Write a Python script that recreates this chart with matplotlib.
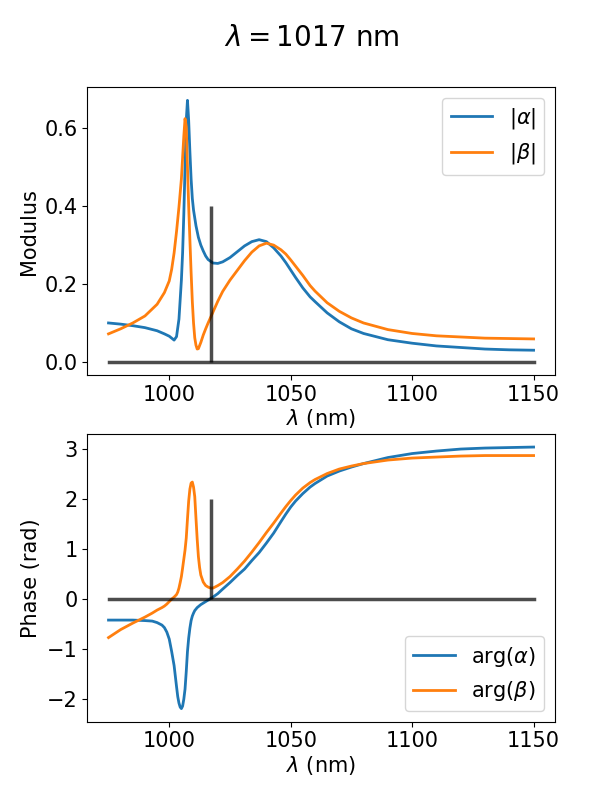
import numpy as np
from matplotlib import pyplot as plt

# wavelength marker for this frame
lam_now = 1017

# Modulus panel
wl_mod = [975, 980, 985, 990, 995, 998, 1000, 1001, 1002, 1003, 1004, 1005, 1005.5,
          1006, 1006.5, 1007, 1007.5, 1008, 1008.5, 1009, 1009.5, 1010, 1010.5, 1011,
          1011.5, 1012, 1013, 1014, 1015, 1016, 1018, 1020, 1022, 1025, 1028, 1031,
          1034, 1037, 1040, 1043, 1046, 1048, 1050, 1052, 1055, 1058, 1060, 1065, 1070,
          1075, 1080, 1090, 1100, 1110, 1120, 1130, 1140, 1150]
mod_alpha = [0.100, 0.097, 0.093, 0.088, 0.080, 0.072, 0.066, 0.061, 0.056, 0.065, 0.110,
             0.210, 0.280, 0.380, 0.500, 0.620, 0.672, 0.620, 0.540, 0.470, 0.420, 0.390,
             0.370, 0.350, 0.335, 0.320, 0.300, 0.285, 0.272, 0.263, 0.254, 0.253, 0.257,
             0.268, 0.283, 0.298, 0.309, 0.314, 0.309, 0.293, 0.272, 0.255, 0.236, 0.217,
             0.190, 0.167, 0.155, 0.126, 0.103, 0.085, 0.073, 0.057, 0.048, 0.041, 0.037,
             0.033, 0.031, 0.030]
mod_beta = [0.072, 0.085, 0.100, 0.118, 0.148, 0.178, 0.208, 0.238, 0.280, 0.335, 0.398,
            0.470, 0.525, 0.580, 0.625, 0.605, 0.500, 0.400, 0.314, 0.230, 0.155, 0.100,
            0.062, 0.043, 0.033, 0.034, 0.050, 0.069, 0.085, 0.100, 0.128, 0.156, 0.181,
            0.210, 0.235, 0.260, 0.282, 0.298, 0.305, 0.300, 0.288, 0.277, 0.262, 0.246,
            0.222, 0.196, 0.182, 0.152, 0.130, 0.113, 0.100, 0.083, 0.073, 0.067, 0.064,
            0.061, 0.060, 0.059]

# Phase panel
wl_ph = [975, 980, 985, 990, 993, 995, 997, 998, 999, 1000, 1001, 1002, 1003, 1003.5,
         1004, 1004.5, 1005, 1005.5, 1006, 1006.5, 1007, 1007.5, 1008, 1008.5, 1009,
         1009.5, 1010, 1010.5, 1011, 1011.5, 1012, 1012.5, 1013, 1014, 1015, 1016, 1017,
         1018, 1020, 1022, 1025, 1028, 1031, 1034, 1037, 1040, 1043, 1046, 1048, 1050,
         1052, 1055, 1058, 1060, 1065, 1070, 1075, 1080, 1090, 1100, 1110, 1120, 1130,
         1140, 1150]
ph_alpha = [-0.42, -0.42, -0.42, -0.43, -0.44, -0.47, -0.52, -0.57, -0.66, -0.80, -1.05,
            -1.33, -1.75, -1.95, -2.08, -2.16, -2.19, -2.14, -2.00, -1.80, -1.45, -1.05,
            -0.78, -0.58, -0.43, -0.34, -0.28, -0.23, -0.20, -0.17, -0.15, -0.13, -0.11,
            -0.08, -0.05, -0.02, 0.01, 0.04, 0.11, 0.20, 0.33, 0.47, 0.60, 0.77, 0.93,
            1.12, 1.32, 1.55, 1.70, 1.84, 1.96, 2.11, 2.24, 2.31, 2.46, 2.56, 2.64, 2.71,
            2.83, 2.91, 2.96, 3.00, 3.02, 3.03, 3.04]
ph_beta = [-0.77, -0.61, -0.48, -0.36, -0.28, -0.22, -0.17, -0.14, -0.10, -0.05, 0.00,
           0.04, 0.09, 0.14, 0.22, 0.33, 0.45, 0.62, 0.80, 0.98, 1.22, 1.60, 1.96, 2.20,
           2.32, 2.34, 2.24, 2.05, 1.62, 1.20, 0.85, 0.63, 0.48, 0.34, 0.27, 0.24, 0.22,
           0.22, 0.27, 0.33, 0.45, 0.60, 0.76, 0.94, 1.13, 1.33, 1.52, 1.72, 1.85, 1.97,
           2.08, 2.22, 2.33, 2.39, 2.51, 2.60, 2.66, 2.71, 2.78, 2.82, 2.84, 2.86, 2.87,
           2.87, 2.87]

plt.rcParams['font.size'] = 15

fig = plt.figure(figsize=(6.12, 8.05), dpi=100)
ax1 = fig.add_axes([0.1426, 0.5342, 0.764, 0.3574])
ax2 = fig.add_axes([0.1426, 0.1035, 0.764, 0.3574])

fig.suptitle(r'$\lambda = $1017 nm', x=0.51, y=0.97, fontsize=20)

ax1.plot(wl_mod, mod_alpha, lw=2, label=r'$|\alpha|$')
ax1.plot(wl_mod, mod_beta, lw=2, label=r'$|\beta|$')
ax1.plot([wl_mod[0], wl_mod[-1]], [0, 0], color='k', lw=2.5, alpha=0.7)
ax1.vlines(lam_now, 0, 0.4, color='k', lw=2.5, alpha=0.7)
ax1.set_xlabel(r'$\lambda$ (nm)', labelpad=2)
ax1.set_ylabel('Modulus', labelpad=4)
ax1.legend(loc='upper right')

ax2.plot(wl_ph, ph_alpha, lw=2, label=r'arg($\alpha$)')
ax2.plot(wl_ph, ph_beta, lw=2, label=r'arg($\beta$)')
ax2.plot([wl_ph[0], wl_ph[-1]], [0, 0], color='k', lw=2.5, alpha=0.7)
ax2.vlines(lam_now, 0, 2, color='k', lw=2.5, alpha=0.7)
ax2.set_xlabel(r'$\lambda$ (nm)', labelpad=2)
ax2.set_ylabel('Phase (rad)', labelpad=4)
ax2.legend(loc='lower right')

fig.savefig('out.png', dpi=100)
